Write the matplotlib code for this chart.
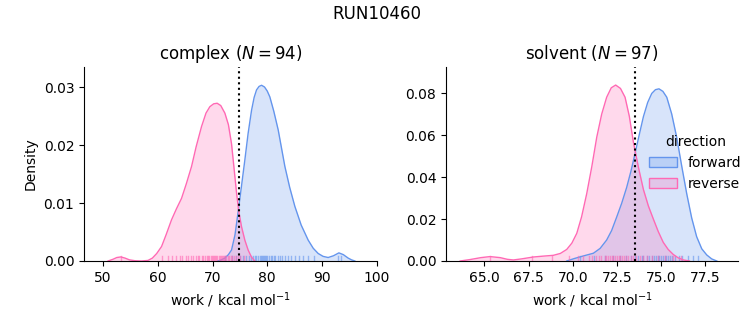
import matplotlib
matplotlib.use("Agg")
import matplotlib.pyplot as plt
from matplotlib.patches import Patch
from matplotlib.colors import to_rgba

# ---- data ----
directions = ["forward", "reverse"]
colors = {"forward": "cornflowerblue", "reverse": "hotpink"}

# complex: density curves (x, density)
cx_fwd_x = [70.97, 71.6, 72.25, 72.9, 73.47, 74.1, 74.68, 75.3, 75.9, 76.5, 77.13, 77.6, 78.04, 78.5,
            78.96, 79.5, 80.0, 80.47, 81.2, 82.0, 82.6, 83.22, 84.1, 85.05, 86.2, 87.48, 88.4, 89.3,
            90.2, 91.13, 92.1, 93.09, 93.9, 94.79, 95.4, 96.01]
cx_fwd_y = [0.0, 0.0002, 0.0005, 0.0011, 0.0019, 0.0045, 0.0085, 0.0130, 0.0174, 0.0220, 0.0260,
            0.0282, 0.0295, 0.0301, 0.0303, 0.0300, 0.0293, 0.0283, 0.0258, 0.0226, 0.0195, 0.0163,
            0.0127, 0.0094, 0.0062, 0.0036, 0.0022, 0.0013, 0.0008, 0.0006, 0.0009, 0.0014, 0.0011,
            0.0005, 0.0002, 0.0]
cx_rev_x = [50.9, 51.8, 52.5, 53.24, 54.0, 54.8, 55.8, 57.0, 58.2, 59.0, 59.8, 60.68, 61.5, 62.5,
            63.4, 64.33, 65.2, 66.16, 67.0, 67.99, 68.8, 69.5, 70.2, 70.84, 71.5, 72.25, 72.9, 73.47,
            73.95, 74.39, 74.8, 75.3, 75.9, 76.5, 77.1, 77.73]
cx_rev_y = [0.0, 0.0003, 0.0006, 0.0007, 0.0005, 0.0002, 0.00005, 0.0, 0.0001, 0.0005, 0.0013,
            0.0025, 0.0045, 0.0071, 0.0090, 0.0108, 0.0133, 0.0163, 0.0197, 0.0232, 0.0255, 0.0266,
            0.0271, 0.0272, 0.0268, 0.0255, 0.0235, 0.0202, 0.0158, 0.0117, 0.0085, 0.0059, 0.0036,
            0.0019, 0.0007, 0.0]

# solvent: density curves
sv_fwd_x = [69.66, 70.1, 70.6, 71.17, 71.55, 71.92, 72.2, 72.49, 72.77, 73.05, 73.3, 73.52, 73.76,
            74.0, 74.24, 74.47, 74.68, 74.88, 75.1, 75.32, 75.6, 75.88, 76.16, 76.45, 76.73, 77.01,
            77.3, 77.58, 77.86, 78.15]
sv_fwd_y = [0.0, 0.0012, 0.0024, 0.0037, 0.0060, 0.0100, 0.0145, 0.0210, 0.0275, 0.0350, 0.0430,
            0.0510, 0.0600, 0.0688, 0.0755, 0.0798, 0.0816, 0.0820, 0.0808, 0.0780, 0.0700, 0.0590,
            0.0455, 0.0320, 0.0205, 0.0116, 0.0058, 0.0029, 0.0010, 0.0]
sv_rev_x = [63.63, 64.2, 64.8, 65.32, 65.9, 66.3, 66.64, 67.1, 67.77, 68.3, 68.9, 69.3, 69.66, 69.95,
            70.23, 70.5, 70.79, 71.08, 71.36, 71.64, 71.92, 72.18, 72.43, 72.7, 72.96, 73.2, 73.43,
            73.72, 74.0, 74.28, 74.56, 74.84, 75.12, 75.4, 75.69, 75.97, 76.26, 76.6]
sv_rev_y = [0.0, 0.0007, 0.0016, 0.0021, 0.0016, 0.0008, 0.0005, 0.0010, 0.0019, 0.0023, 0.0027,
            0.0036, 0.0055, 0.0085, 0.0132, 0.0210, 0.0320, 0.0450, 0.0590, 0.0700, 0.0780, 0.0825,
            0.0838, 0.0822, 0.0780, 0.0690, 0.0567, 0.0445, 0.0340, 0.0262, 0.0200, 0.0140, 0.0089,
            0.0055, 0.0031, 0.0015, 0.0005, 0.0]

# rug samples (estimated)
cx_fwd_rug = [72.3, 73.5, 74.3, 75.0, 75.6, 76.1, 76.6, 77.0, 77.4, 77.7, 78.0, 78.3, 78.6, 78.8,
              79.0, 79.2, 79.4, 79.6, 79.8, 80.0, 80.3, 80.6, 80.9, 81.2, 81.5, 81.9, 82.3, 82.7,
              83.2, 83.7, 84.3, 85.0, 85.8, 86.5, 87.4, 88.6, 92.9, 93.4]
cx_rev_rug = [53.3, 60.8, 61.9, 62.6, 63.4, 64.0, 64.5, 65.1, 65.6, 66.0, 66.4, 66.9, 67.3, 67.6,
              68.0, 68.3, 68.6, 68.9, 69.2, 69.4, 69.7, 69.9, 70.1, 70.3, 70.5, 70.7, 70.9, 71.1,
              71.3, 71.5, 71.7, 71.9, 72.1, 72.3, 72.5, 72.8, 73.0, 73.3, 73.6, 73.9, 74.2, 74.6,
              75.1, 75.8]
sv_fwd_rug = [70.4, 71.2, 71.8, 72.3, 72.7, 73.0, 73.3, 73.5, 73.7, 73.9, 74.0, 74.2, 74.3, 74.5,
              74.6, 74.7, 74.8, 74.9, 75.0, 75.1, 75.2, 75.3, 75.4, 75.5, 75.6, 75.8, 76.0, 76.2,
              76.5, 76.8, 77.1]
sv_rev_rug = [65.3, 67.7, 68.8, 69.8, 70.3, 70.6, 70.9, 71.1, 71.3, 71.5, 71.6, 71.8, 71.9, 72.0,
              72.1, 72.2, 72.3, 72.4, 72.5, 72.6, 72.7, 72.8, 72.9, 73.0, 73.1, 73.3, 73.4, 73.6,
              73.8, 74.0, 74.2, 74.5, 74.8, 75.2, 75.7, 76.1]

cx_estimate = 74.8
sv_estimate = 73.52
titles = ["complex ($N = 94$)", "solvent ($N = 97$)"]
suptitle = "RUN10460"

panels = [
    dict(curves={"forward": (cx_fwd_x, cx_fwd_y), "reverse": (cx_rev_x, cx_rev_y)},
         rugs={"forward": cx_fwd_rug, "reverse": cx_rev_rug}, est=cx_estimate,
         xlim=(46.5, 100.06), ylim=(0, 0.03345), xticks=[50, 60, 70, 80, 90, 100],
         yticks=[0.0, 0.01, 0.02, 0.03], fmt="{:.2f}", xfmt="{:.0f}"),
    dict(curves={"forward": (sv_fwd_x, sv_fwd_y), "reverse": (sv_rev_x, sv_rev_y)},
         rugs={"forward": sv_fwd_rug, "reverse": sv_rev_rug}, est=sv_estimate,
         xlim=(62.83, 79.35), ylim=(0, 0.0924), xticks=[65.0, 67.5, 70.0, 72.5, 75.0, 77.5],
         yticks=[0.0, 0.02, 0.04, 0.06, 0.08], fmt="{:.2f}", xfmt="{:.1f}"),
]

fig = plt.figure(figsize=(7.53, 3.25), dpi=100)
ax_pos = [[84 / 753, 1 - 261 / 325, 293 / 753, 194 / 325],
          [446 / 753, 1 - 261 / 325, 292 / 753, 194 / 325]]

for i, p in enumerate(panels):
    ax = fig.add_axes(ax_pos[i])
    for d in directions:
        x, y = p["curves"][d]
        c = colors[d]
        ax.fill_between(x, y, 0, color=c, alpha=0.25, linewidth=0)
        ax.plot(x, y, color=c, linewidth=1)
        for v in p["rugs"][d]:
            ax.axvline(v, ymin=0, ymax=0.025, color=c, linewidth=1, alpha=0.6)
    ax.axvline(p["est"], color="black", linestyle=":", linewidth=1.5)
    ax.set_xlim(*p["xlim"])
    ax.set_ylim(*p["ylim"])
    ax.set_xticks(p["xticks"])
    ax.set_xticklabels([p["xfmt"].format(t) for t in p["xticks"]])
    ax.set_yticks(p["yticks"])
    ax.set_yticklabels([p["fmt"].format(t) for t in p["yticks"]])
    ax.spines["top"].set_visible(False)
    ax.spines["right"].set_visible(False)
    ax.set_xlabel("work / kcal mol$^{-1}$")
    ax.set_title(titles[i], fontsize=12)
    if i == 0:
        ax.set_ylabel("Density")
    else:
        handles = [Patch(facecolor=to_rgba(colors[d], 0.25), edgecolor=colors[d], linewidth=1)
                   for d in directions]
        ax.legend(handles, directions, title="direction", frameon=False,
                  loc="upper left", bbox_to_anchor=(0.653, 0.715))

fig.suptitle(suptitle, fontsize=12, y=0.985)
fig.savefig("out.png", dpi=100)
